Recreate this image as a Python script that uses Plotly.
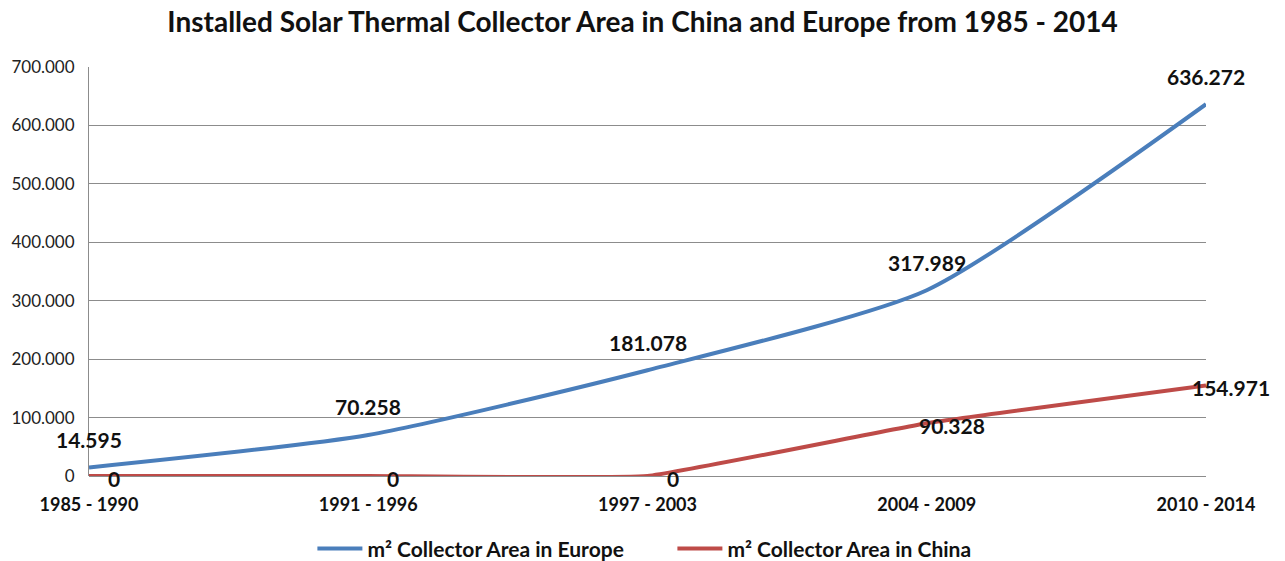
import plotly.graph_objects as go

categories = ["1985 - 1990", "1991 - 1996", "1997 - 2003", "2004 - 2009", "2010 - 2014"]
europe = [14595, 70258, 181078, 317989, 636272]
china = [0, 0, 0, 90328, 154971]
europe_name = "m² Collector Area in Europe"
china_name = "m² Collector Area in China"
title = "Installed Solar Thermal Collector Area in China and Europe from 1985 - 2014"

FONT = "Lato, Open Sans, sans-serif"

def fmt(v):
    return f"{v:,.0f}".replace(",", ".")

fig = go.Figure()
fig.add_trace(go.Scatter(x=categories, y=europe, mode="lines", name=f"<b>{europe_name}</b>",
                         line=dict(color="#4A7EBB", width=4, shape="spline", smoothing=0.6)))
fig.add_trace(go.Scatter(x=categories, y=china, mode="lines", name=f"<b>{china_name}</b>",
                         line=dict(color="#BE4B48", width=4, shape="spline", smoothing=0.3)))

for c, v in zip(categories, europe):
    fig.add_annotation(x=c, y=v, text=f"<b>{fmt(v)}</b>", showarrow=False, yshift=28,
                       font=dict(family=FONT, size=21, color="#111"))
for c, v in zip(categories, china):
    fig.add_annotation(x=c, y=v, text=f"<b>{fmt(v)}</b>", showarrow=False, xshift=25, yshift=-2,
                       font=dict(family=FONT, size=21, color="#111"))

fig.update_layout(
    width=1285, height=561,
    margin=dict(l=89, r=79, t=67, b=85, autoexpand=False),
    paper_bgcolor="white", plot_bgcolor="white",
    separators=",.",
    title=dict(text=f"<b>{title}</b>", x=0.5, xanchor="center", y=0.96, yanchor="middle",
               font=dict(family=FONT, size=28, color="#111")),
    showlegend=True,
    legend=dict(orientation="h", x=0.2, xanchor="left", y=-0.178, yanchor="middle",
                font=dict(family=FONT, size=21, color="#111"), itemwidth=45,
                entrywidth=300, entrywidthmode="pixels",
                traceorder="normal"),
    font=dict(family=FONT, color="#111"),
)
fig.update_xaxes(type="category", range=[0, 4], showgrid=False, showline=False,
                 automargin=False,
                 ticks="outside", ticklen=12, tickcolor="rgba(0,0,0,0)",
                 tickfont=dict(family=FONT, size=18, color="#111"),
                 tickprefix="<b>", ticksuffix="</b>")
fig.update_yaxes(range=[0, 700000], dtick=100000, tickformat=",.0f",
                 automargin=False,
                 showgrid=True, gridcolor="#8C8C8C", gridwidth=1,
                 showline=True, linecolor="#8C8C8C", linewidth=1,
                 zeroline=True, zerolinecolor="#8C8C8C", zerolinewidth=1,
                 ticks="outside", ticklen=10, tickcolor="rgba(0,0,0,0)",
                 tickfont=dict(family=FONT, size=17, color="#222"))

fig.write_html("out.html")
